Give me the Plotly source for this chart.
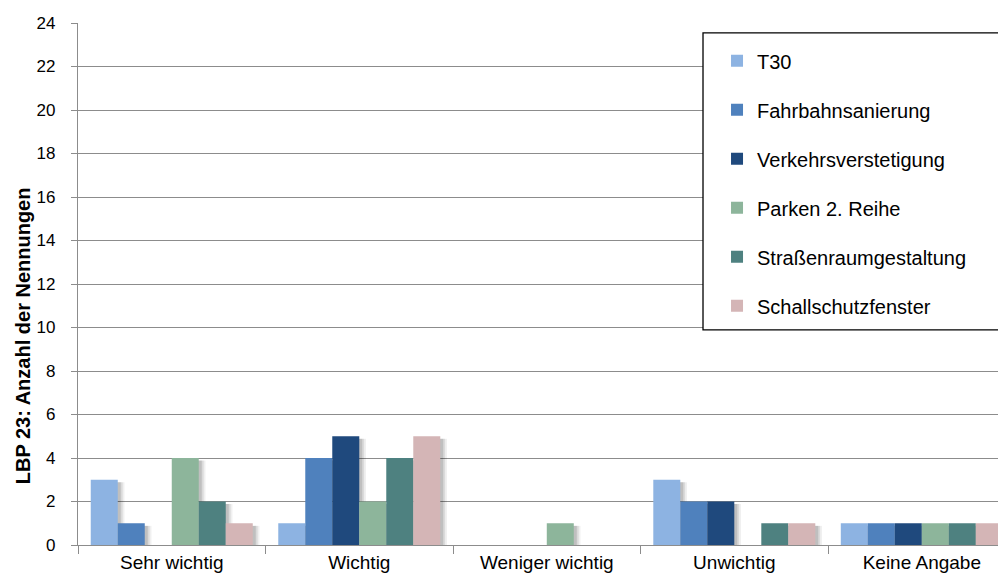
import plotly.graph_objects as go

categories = ["Sehr wichtig", "Wichtig", "Weniger wichtig", "Unwichtig", "Keine Angabe"]
series_names = ["T30", "Fahrbahnsanierung", "Verkehrsverstetigung",
                "Parken 2. Reihe", "Straßenraumgestaltung", "Schallschutzfenster"]
t30 = [3, 1, 0, 3, 1]
fahrbahn = [1, 4, 0, 2, 1]
verkehr = [0, 5, 0, 2, 1]
parken = [4, 2, 1, 0, 1]
strassen = [2, 4, 0, 1, 1]
schall = [1, 5, 0, 1, 1]
series_values = [t30, fahrbahn, verkehr, parken, strassen, schall]
colors = ["#8DB3E2", "#4F81BD", "#1F497D", "#8DB59B", "#4E8180", "#D4B5B6"]
y_ticks = list(range(0, 25, 2))

FONT = "Liberation Sans, Arial, sans-serif"
bar_w = 0.144
start = -0.432

fig = go.Figure()

# soft drop shadows
for i, vals in enumerate(series_values):
    for dx, alpha in [(0.036, 0.06), (0.026, 0.09), (0.016, 0.12)]:
        fig.add_trace(go.Bar(
            x=categories, y=[v for v in vals], base=-0.12,
            width=bar_w, offset=start + i * bar_w + dx,
            marker=dict(color=f"rgba(0,0,0,{alpha})", line=dict(width=0)),
            showlegend=False, hoverinfo="skip"))

for i, (name, vals) in enumerate(zip(series_names, series_values)):
    fig.add_trace(go.Bar(
        x=categories, y=vals, name=name, legendgroup=name,
        width=bar_w, offset=start + i * bar_w,
        marker=dict(color=colors[i], line=dict(width=0))))

# legend box
fig.add_shape(type="rect", xref="paper", yref="paper",
              x0=0.6735, x1=0.999, y0=0.412, y1=0.981,
              line=dict(color="black", width=1.3), fillcolor="white", layer="above")

# y-axis title
fig.add_annotation(text="<b>LBP 23: Anzahl der Nennungen</b>", textangle=-90,
                   xref="paper", yref="paper", x=-0.059, y=0.4004,
                   xanchor="center", yanchor="middle", showarrow=False,
                   font=dict(family=FONT, size=20, color="black"))

fig.update_layout(
    width=998, height=573,
    margin=dict(l=70, r=0, t=15, b=36, autoexpand=False),
    barmode="overlay",
    plot_bgcolor="white", paper_bgcolor="white",
    font=dict(family=FONT, size=17, color="black"),
    showlegend=True,
    legend=dict(x=0.6886, y=0.965, xanchor="left", yanchor="top",
                bgcolor="rgba(0,0,0,0)", borderwidth=0,
                font=dict(family=FONT, size=20, color="black"),
                tracegroupgap=20, traceorder="grouped"),
    xaxis=dict(range=[-0.5, 4.449], type="category", automargin=False,
               showline=True, linecolor="#8c8c8c", linewidth=1.3,
               ticks="outside", tickson="boundaries", ticklen=8, tickcolor="#8c8c8c",
               tickfont=dict(family=FONT, size=19), showgrid=False, fixedrange=True),
    yaxis=dict(range=[0, 24], tickvals=y_ticks, ticktext=[str(v) for v in y_ticks],
               automargin=False,
               showline=True, linecolor="#8c8c8c", linewidth=1.3,
               ticks="outside", ticklen=6, tickcolor="#8c8c8c",
               showgrid=True, gridcolor="#8c8c8c", gridwidth=1.3,
               zeroline=False, ticklabelstandoff=12,
               tickfont=dict(family=FONT, size=17)),
)

fig.write_html("out.html")
